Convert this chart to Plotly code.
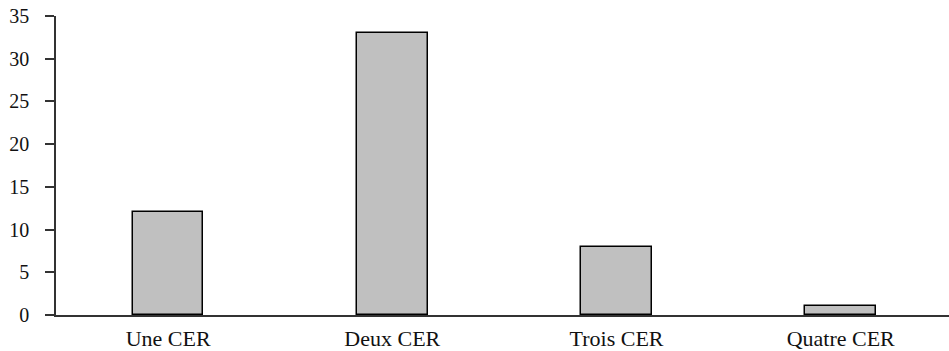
import plotly.graph_objects as go

categories = ["Une CER", "Deux CER", "Trois CER", "Quatre CER"]
values = [12, 33, 8, 1]
y_ticks = [0, 5, 10, 15, 20, 25, 30, 35]

fig = go.Figure(go.Bar(
    x=categories, y=values, width=0.315,
    marker=dict(color="#c0c0c0", line=dict(color="#000000", width=1.5)),
))
font = dict(family="Liberation Serif, Times New Roman, serif", size=20, color="#111")
fig.update_layout(
    width=949, height=351,
    margin=dict(l=56, r=0, t=16, b=36, autoexpand=False),
    plot_bgcolor="white", paper_bgcolor="white",
    font=font, showlegend=False, bargap=0,
)
fig.update_xaxes(showline=True, linecolor="#333", linewidth=1.5, ticks="", showgrid=False,
                 automargin=False, ticklabelstandoff=3, tickfont=dict(size=22),
                 range=[-0.5, 3.483])
fig.update_yaxes(range=[0, 35], tickvals=y_ticks, showline=True, linecolor="#333", linewidth=1.5,
                 ticks="outside", ticklen=9, tickcolor="#333", tickwidth=1.5, showgrid=False,
                 zeroline=False, ticklabelstandoff=12, automargin=False)
fig.write_html("out.html", config={"displayModeBar": False},
               post_script="document.body.style.margin='0';document.body.style.overflow='hidden';")
